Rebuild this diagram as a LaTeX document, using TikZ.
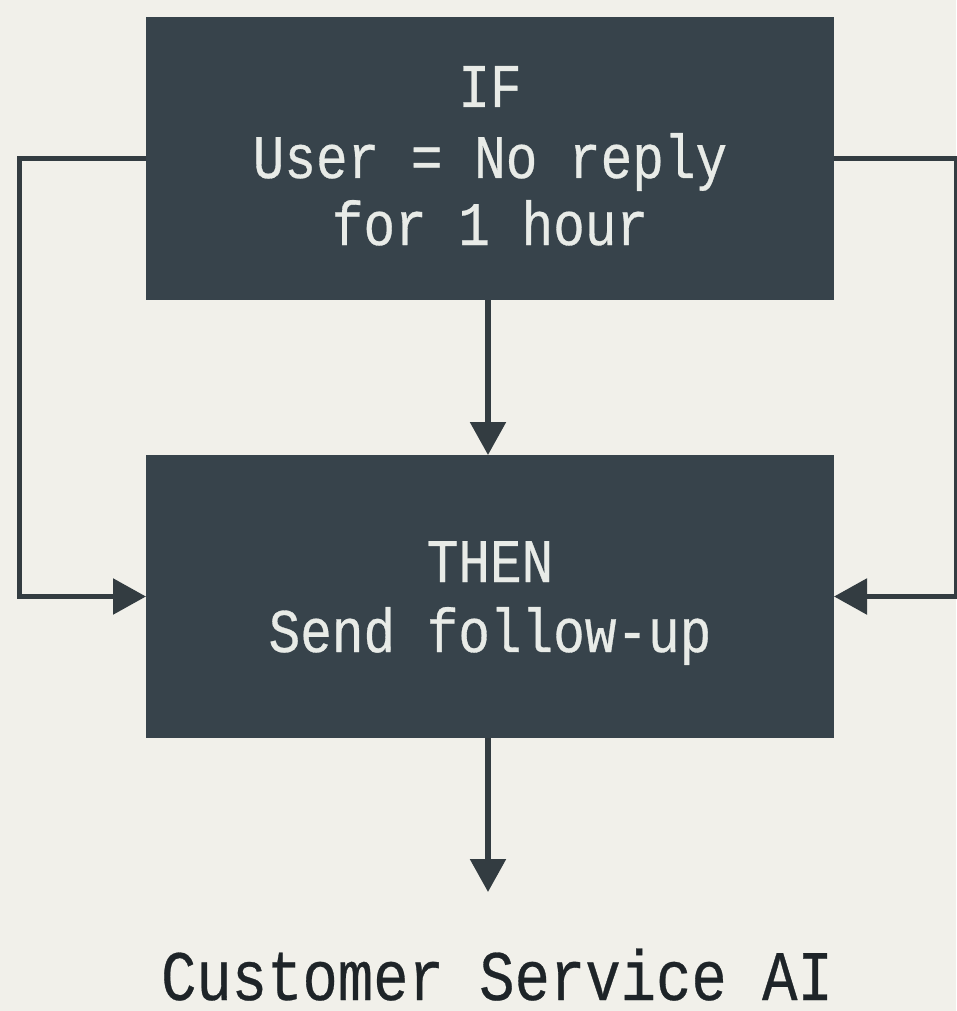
\documentclass[tikz,border=0pt]{standalone}
\usepackage{fontspec}
\newfontfamily\boxfont[FakeStretch=0.85,FakeBold=0.5]{Liberation Mono}
\newfontfamily\capfont[FakeStretch=0.83,FakeBold=0.4]{Liberation Mono}
\usetikzlibrary{arrows.meta}
\definecolor{bg}{HTML}{F1F0EA}
\definecolor{boxc}{HTML}{37434B}
\definecolor{linec}{HTML}{333C41}
\definecolor{txt}{HTML}{E8EBE7}
\definecolor{captxt}{HTML}{1E2428}
\begin{document}
\begin{tikzpicture}[x=1pt,y=-1pt,
  box/.style={fill=boxc, draw=none, minimum width=688pt, minimum height=283pt, inner sep=0pt, outer sep=0pt},
  boxtext/.style={text=txt, font=\boxfont\fontsize{62}{69}\selectfont, anchor=base, inner sep=0pt},
  conn/.style={draw=linec, line width=5.5pt},
  tip/.style={-{Triangle[length=33pt,width=35pt]}}
]
\fill[bg] (0,0) rectangle (956,1011);
\useasboundingbox (0,0) rectangle (956,1011);
\node[box] (ifbox) at (490,158.5) {};
\node[box] (thenbox) at (490,596.5) {};
\node[boxtext] (t1) at (490,107) {IF};
\node[boxtext] (t2) at (490,178) {User = No reply};
\node[boxtext] (t3) at (490,245) {for 1 hour};
\node[boxtext] (t4) at (490,582) {THEN};
\node[boxtext] (t5) at (490,652) {Send follow-up};
\node[text=captxt, font=\capfont\fontsize{71}{80}\selectfont, anchor=base, inner sep=0pt] (title) at (497,1000) {Customer Service AI};
\coordinate (lc) at (19.5,0);
\coordinate (rc) at (957,0);
\coordinate (end) at (488,892);
\draw[conn,tip] (ifbox.west) -- (ifbox.west -| lc) |- (thenbox.west);
\draw[conn,tip] (ifbox.east) -- (ifbox.east -| rc) |- (thenbox.east);
\draw[conn,tip] ([xshift=-2pt]ifbox.south) -- ([xshift=-2pt]thenbox.north);
\draw[conn,tip] ([xshift=-2pt]thenbox.south) -- (end);
\end{tikzpicture}
\end{document}
